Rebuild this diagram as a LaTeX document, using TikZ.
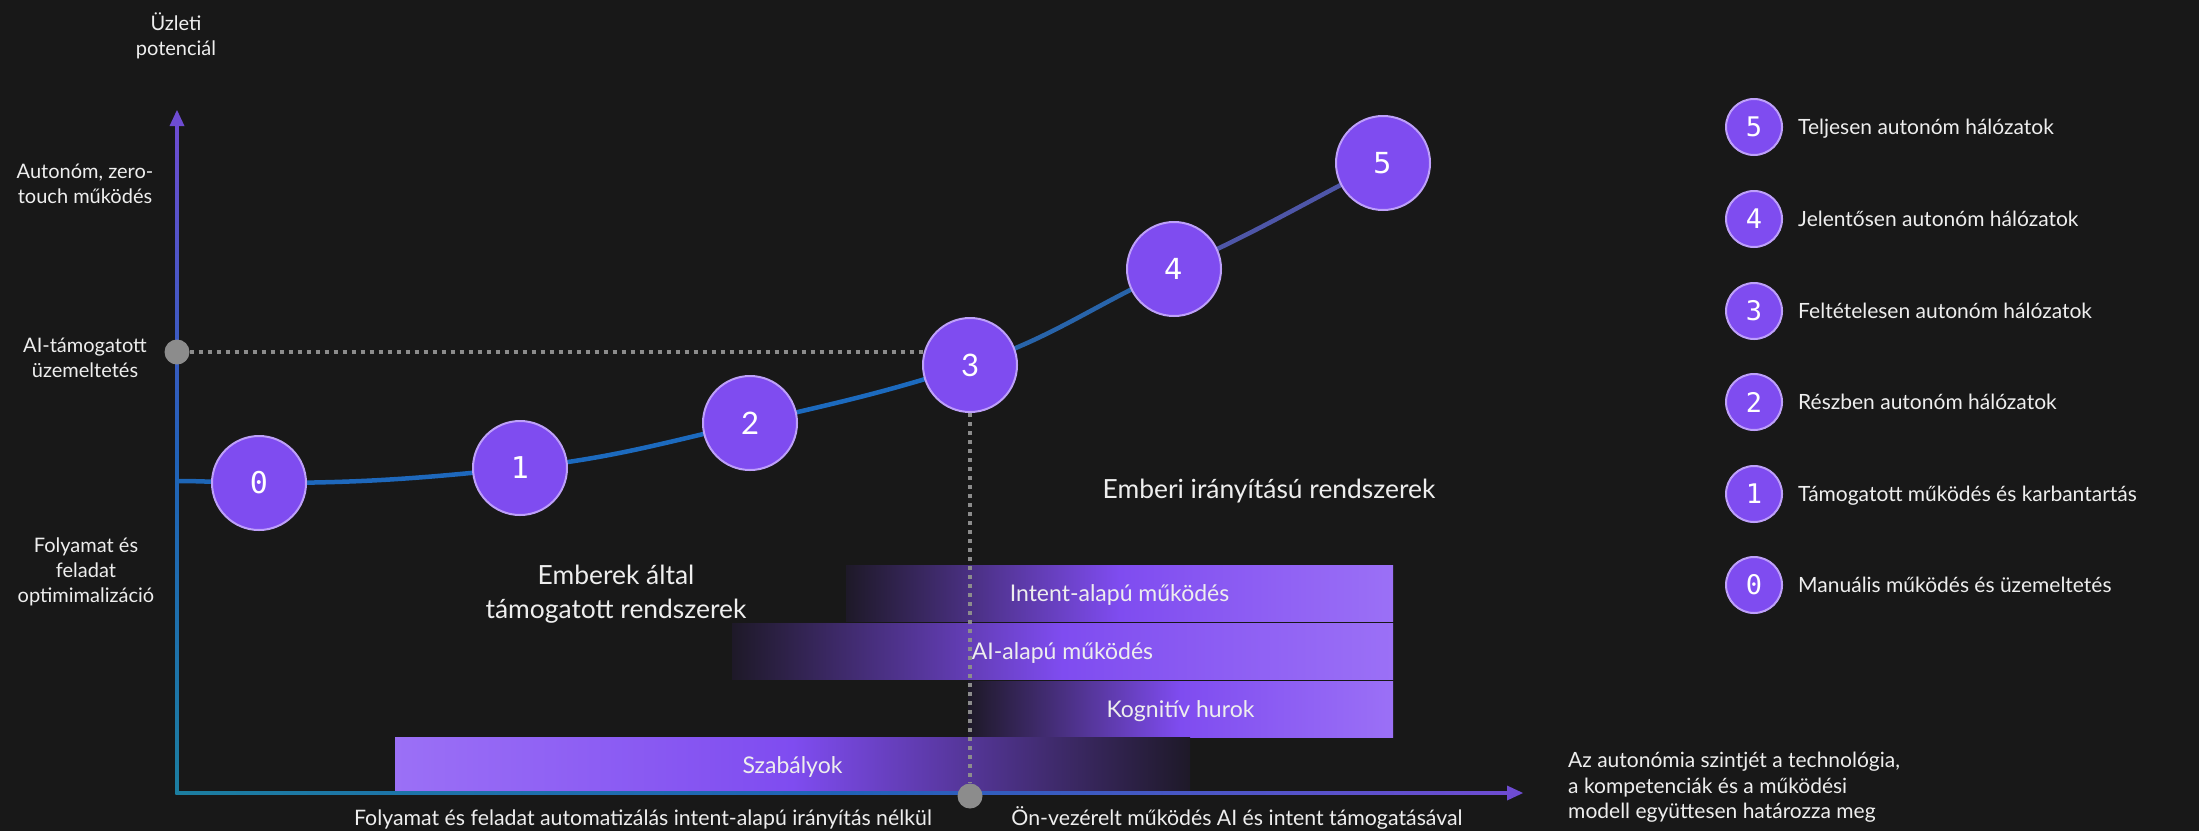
\documentclass[tikz,border=0pt]{standalone}
\usepackage{fontspec}
\setmainfont{Lato}
\newfontfamily\monofont{DejaVu Sans Mono}
\newfontfamily\dvsans{DejaVu Sans}
\usetikzlibrary{positioning}

\definecolor{bgc}{RGB}{24,24,24}
\definecolor{txt}{RGB}{238,238,238}
\definecolor{lvl}{RGB}{127,76,240}
\definecolor{lvlring}{RGB}{190,160,250}
\definecolor{barpurple}{RGB}{127,76,240}
\definecolor{barlight}{RGB}{155,112,246}
\definecolor{bardark}{RGB}{30,25,40}
\definecolor{axteal}{RGB}{28,126,160}
\definecolor{axblue}{RGB}{32,98,184}
\definecolor{axpurple}{RGB}{110,76,210}
\definecolor{guide}{RGB}{140,140,140}
\definecolor{cv0}{RGB}{30,102,182}
\definecolor{cv1}{RGB}{30,104,188}
\definecolor{cv2}{RGB}{28,106,190}
\definecolor{cv3}{RGB}{40,100,170}
\definecolor{cv4}{RGB}{78,86,168}

\pgfdeclarelayer{back}
\pgfdeclarelayer{mid}
\pgfsetlayers{back,mid,main}

\begin{document}
\begin{tikzpicture}[x=1pt,y=1pt,
  lbl/.style={text=txt, font=\fontsize{20}{25}\selectfont, align=center, inner sep=0pt},
  xlbl/.style={text=txt, font=\fontsize{21.3}{25}\selectfont, inner sep=0pt, anchor=base},
  caption/.style={text=txt, font=\fontsize{26.4}{34}\selectfont, align=center, inner sep=0pt},
  level/.style={circle, fill=lvl, draw=lvlring, line width=2pt, minimum size=94pt,
    inner sep=0pt, text=white},
  legdot/.style={circle, fill=lvl, draw=lvlring, line width=2pt, minimum size=56pt,
    inner sep=0pt, text=white, font=\monofont\fontsize{27}{27}\selectfont},
  legtext/.style={text=txt, font=\fontsize{21}{21}\selectfont, inner sep=0pt,
    text height=15pt, text depth=0pt},
  band/.style={minimum height=56pt, inner sep=0pt, text=txt,
    font=\fontsize{23}{23}\selectfont, text height=16.5pt, text depth=0pt},
  guidedot/.style={circle, fill=guide, minimum size=25pt, inner sep=0pt},
  dotline/.style={draw=guide, line width=4pt, dash pattern=on 4pt off 5pt},
  curve/.style={line width=4.5pt},
]
\useasboundingbox (0,0) rectangle (2199,-831);

% ---------- background and capability bands ----------
\begin{pgfonlayer}{back}
  \fill[bgc] (0,0) rectangle (2199,-831);
  \node[band, minimum width=547pt, left color=bardark, right color=barlight,
        middle color=barpurple] (intent) at (1119.5,-593) {Intent-alapú működés};
  \node[band, minimum width=661pt, left color=bardark, right color=barlight,
        middle color=barpurple] (aiop) at (1062.5,-651) {AI-alapú működés};
  \node[band, minimum width=425pt, left color=bardark, right color=barlight,
        middle color=barpurple] (cog) at (1180.5,-709) {Kognitív hurok};
  \node[band, minimum width=795pt, left color=barlight, right color=bardark,
        middle color=barpurple] (rules) at (792.5,-765) {Szabályok};
\end{pgfonlayer}

% ---------- axes ----------
\coordinate (O) at (177,-793);
\coordinate (ytip) at (177,-110);
\coordinate (xtip) at (1523,-793);
\coordinate (ya) at (177,-481);
\begin{pgfonlayer}{mid}
  \shade[bottom color=axteal, top color=axpurple, middle color=axblue]
    (175.5,-794.5) rectangle (178.5,-124);
  \fill[axpurple] (ytip) -- ++(-7.5,-16) -- ++(15,0) -- cycle;
  \shade[left color=axteal, right color=axpurple, middle color=axblue]
    (175.5,-794.5) rectangle (1509,-791.5);
  \fill[axpurple] (xtip) -- ++(-16,7.5) -- ++(0,-15) -- cycle;
\end{pgfonlayer}

% ---------- autonomy levels on the curve ----------
\node[level, font=\monofont\fontsize{30}{30}\selectfont] (L0) at (259,-483) {0};
\node[level, font=\monofont\fontsize{30}{30}\selectfont] (L1) at (520,-468) {1};
\node[level, font=\fontsize{31}{31}\selectfont] (L2) at (750,-423) {2};
\node[level, font=\fontsize{31}{31}\selectfont] (L3) at (970,-365) {3};
\node[level, font=\dvsans\fontsize{29}{29}\selectfont] (L4) at (1174,-269) {4};
\node[level, font=\dvsans\fontsize{29}{29}\selectfont] (L5) at (1383,-163) {5};

% guide markers
\node[guidedot] (gy) at (177,-352) {};
\node[guidedot] (gx) at (970,-796) {};

\begin{pgfonlayer}{mid}
  \draw[curve, cv0] (ya) to[out=0, in=180] (L0.center);
  \draw[curve, cv1] (L0.center) to[out=0, in=186] (L1.center);
  \draw[curve, cv2] (L1.center) to[out=6, in=193] (L2.center);
  \draw[curve, cv2] (L2.center) to[out=13, in=198] (L3.center);
  \draw[curve, cv3] (L3.center) to[out=18, in=204] (L4.center);
  \draw[curve, cv4] (L4.center) to[out=24, in=207] (L5.center);
  \draw[dotline] (gy) -- (gy -| L3.center);
  \draw[dotline] (L3) -- (gx);
\end{pgfonlayer}

% ---------- axis labels ----------
\node[lbl] (yname) at (176,-36) {Üzleti\\potenciál};
\node[lbl] (yauto) at (85,-184) {Autonóm, zero-\\touch működés};
\node[lbl] (yai) at (85,-358) {AI-támogatott\\üzemeltetés};
\node[lbl] (yproc) at (86,-572) {Folyamat és\\feladat\\optimimalizáció};

\node[xlbl] (xleft) at (643,-825)
  {Folyamat és feladat automatizálás intent-alapú irányítás nélkül};
\node[xlbl] (xright) at (1237,-825)
  {Ön-vezérelt működés AI és intent támogatásával};
\node[lbl, align=left, font=\fontsize{21}{25.5}\selectfont, anchor=north west]
  (xname) at (1568,-752)
  {Az autonómia szintjét a technológia,\\a kompetenciák és a működési\\modell együttesen határozza meg};

% ---------- region captions ----------
\node[caption] (humsup) at (616,-594) {Emberek által\\támogatott rendszerek};
\node[caption, anchor=base] (humctl) at (1269,-498) {Emberi irányítású rendszerek};

% ---------- legend ----------
\node[legdot] (k5) at (1754,-127) {5};
\node[legdot] (k4) at (1754,-219) {4};
\node[legdot] (k3) at (1754,-311) {3};
\node[legdot] (k2) at (1754,-402) {2};
\node[legdot] (k1) at (1754,-494) {1};
\node[legdot] (k0) at (1754,-585) {0};
\node[legtext, right=15pt of k5] (t5) {Teljesen autonóm hálózatok};
\node[legtext, right=15pt of k4] (t4) {Jelentősen autonóm hálózatok};
\node[legtext, right=15pt of k3] (t3) {Feltételesen autonóm hálózatok};
\node[legtext, right=15pt of k2] (t2) {Részben autonóm hálózatok};
\node[legtext, right=15pt of k1] (t1) {Támogatott működés és karbantartás};
\node[legtext, right=15pt of k0] (t0) {Manuális működés és üzemeltetés};
\end{tikzpicture}
\end{document}
